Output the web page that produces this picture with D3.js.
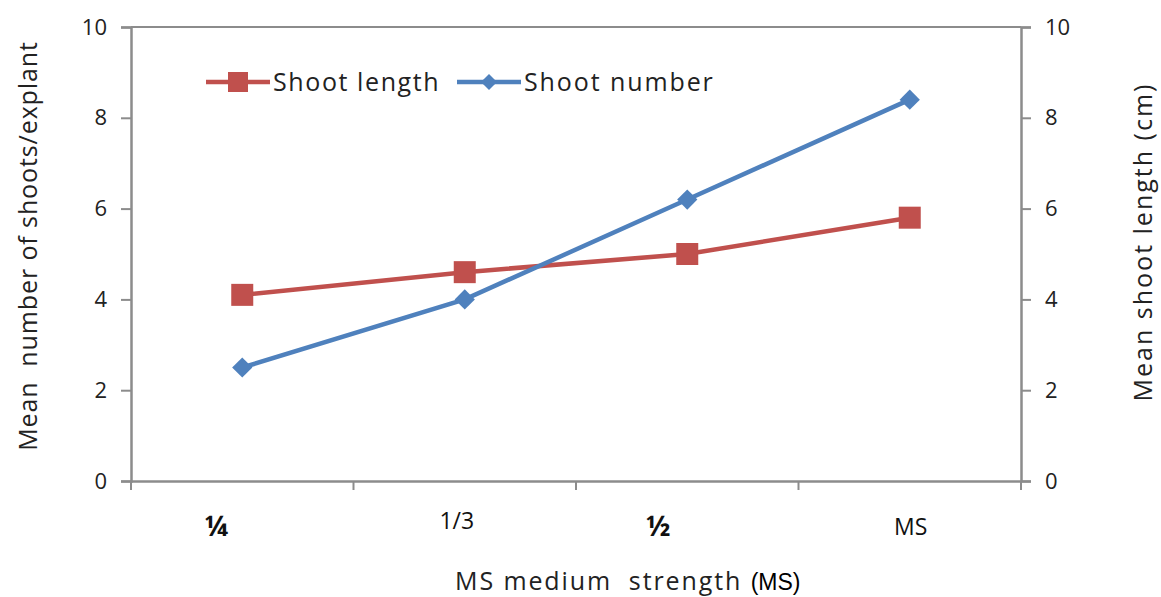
<!doctype html>
<html>
<head>
<meta charset="utf-8">
<title>Shoot number and length vs MS strength</title>
<style>
  body { margin:0; background:#fff; }
  svg { display:block; font-family:"Open Sans","Liberation Sans",sans-serif; }
</style>
</head>
<body>
<svg width="1161" height="597" id="chart"></svg>
<script src="https://d3js.org/d3.v7.min.js"></script>
<script>
var categories = ["¼", "1/3", "½", "MS"];
var shootLength = [4.1, 4.6, 5.0, 5.8];
var shootNumber = [2.5, 4.0, 6.2, 8.4];
var yTicks = [0, 2, 4, 6, 8, 10];

var svg = d3.select("#chart");
var plotL = 131, plotR = 1021, plotT = 27, plotB = 481;

var x = d3.scaleBand().domain(categories).range([plotL, plotR]);
var yL = d3.scaleLinear().domain([0, 10]).range([plotB, plotT]);
var yR = d3.scaleLinear().domain([0, 10]).range([plotB, plotT]);

var axisColor = "#8c8c8c";

// top border of plot area
svg.append("line").attr("x1", plotL).attr("x2", plotR).attr("y1", plotT).attr("y2", plotT)
  .attr("stroke", axisColor).attr("stroke-width", 2);

var gl = svg.append("g").attr("transform", "translate(" + plotL + ",0)")
  .call(d3.axisLeft(yL).tickValues(yTicks).tickSize(10).tickPadding(14));
var gr = svg.append("g").attr("transform", "translate(" + plotR + ",0)")
  .call(d3.axisRight(yR).tickValues(yTicks).tickSize(10).tickPadding(14));
var gx = svg.append("g").attr("transform", "translate(0," + plotB + ")")
  .call(d3.axisBottom(x).tickSize(0).tickFormat(""));

// category boundary ticks
gx.selectAll(".bound").data(d3.range(categories.length + 1)).enter().append("line")
  .attr("x1", function(i){ return plotL + i * x.step(); })
  .attr("x2", function(i){ return plotL + i * x.step(); })
  .attr("y1", 0).attr("y2", 9)
  .attr("stroke", axisColor).attr("stroke-width", 2);

[gl, gr, gx].forEach(function(g){
  g.select(".domain").attr("stroke", axisColor).attr("stroke-width", 2.5);
  g.selectAll(".tick line").attr("stroke", axisColor).attr("stroke-width", 2);
  g.selectAll("text").attr("fill", "#222").style("font-size", "22px")
    .style("font-family", "'Open Sans', sans-serif");
});

// category labels (mixed styles like the original)
var labelStyle = {
  "¼":  {dx: -26, y: 536, size: 28, weight: "bold"},
  "1/3":{dx: -8,  y: 529, size: 23, weight: "normal"},
  "½":  {dx: -29, y: 536, size: 28, weight: "bold"},
  "MS": {dx: 1,   y: 535, size: 23, weight: "normal"}
};
svg.selectAll(".xlab").data(categories).enter().append("text")
  .attr("class", "xlab")
  .attr("x", function(d){ return x(d) + x.bandwidth() / 2 + labelStyle[d].dx; })
  .attr("y", function(d){ return labelStyle[d].y; })
  .attr("text-anchor", "middle")
  .style("font-size", function(d){ return labelStyle[d].size + "px"; })
  .style("font-weight", function(d){ return labelStyle[d].weight; })
  .attr("fill", "#111")
  .text(function(d){ return d; });

// axis titles
var xt = svg.append("text").attr("x", 455).attr("y", 590).attr("fill", "#222")
  .style("font-size", "25px").style("white-space", "pre");
xt.append("tspan").text("MS medium  strength ").style("letter-spacing", "1.9px");
xt.append("tspan").text("(MS)").attr("font-family", "Liberation Sans, Arial, sans-serif")
  .style("font-family", "Liberation Sans, Arial, sans-serif")
  .style("font-size", "23px").style("letter-spacing", "0px").attr("fill", "#000");

svg.append("text").attr("transform", "translate(37,246) rotate(-90)")
  .attr("text-anchor", "middle").attr("fill", "#222").style("font-size", "25px")
  .style("letter-spacing", "0.9px").style("white-space", "pre").text("Mean  number of shoots/explant");
svg.append("text").attr("transform", "translate(1152,242) rotate(-90)")
  .attr("text-anchor", "middle").attr("fill", "#222").style("font-size", "25px")
  .style("letter-spacing", "2px").text("Mean shoot length (cm)");

var red = "#C0504D", blue = "#4F81BD";
var cx = function(d, i){ return x(categories[i]) + x.bandwidth() / 2; };

var lineR = d3.line().x(cx).y(function(d){ return yR(d); });
var lineL = d3.line().x(cx).y(function(d){ return yL(d); });

svg.append("path").datum(shootLength).attr("d", lineR)
  .attr("fill", "none").attr("stroke", red).attr("stroke-width", 4.5);
svg.append("path").datum(shootNumber).attr("d", lineL)
  .attr("fill", "none").attr("stroke", blue).attr("stroke-width", 4.5);

svg.selectAll(".sq").data(shootLength).enter().append("rect")
  .attr("x", function(d, i){ return cx(d, i) - 11; })
  .attr("y", function(d){ return yR(d) - 11; })
  .attr("width", 22).attr("height", 22).attr("fill", red);

var diamond = d3.symbol().type(d3.symbolSquare).size(205);
svg.selectAll(".dm").data(shootNumber).enter().append("path")
  .attr("transform", function(d, i){ return "translate(" + cx(d, i) + "," + yL(d) + ") rotate(45)"; })
  .attr("d", diamond).attr("fill", blue);

// legend
var legend = svg.append("g");
legend.append("line").attr("x1", 206).attr("x2", 270).attr("y1", 82).attr("y2", 82)
  .attr("stroke", red).attr("stroke-width", 4.5);
legend.append("rect").attr("x", 228).attr("y", 72).attr("width", 20).attr("height", 20).attr("fill", red);
legend.append("text").attr("x", 273).attr("y", 91).attr("fill", "#222")
  .style("font-size", "25px").style("letter-spacing", "1.6px").text("Shoot length");
legend.append("line").attr("x1", 457).attr("x2", 521).attr("y1", 82).attr("y2", 82)
  .attr("stroke", blue).attr("stroke-width", 4.5);
legend.append("path").attr("transform", "translate(489,82) rotate(45)")
  .attr("d", d3.symbol().type(d3.symbolSquare).size(130)).attr("fill", blue);
legend.append("text").attr("x", 524).attr("y", 91).attr("fill", "#222")
  .style("font-size", "25px").style("letter-spacing", "1.9px").text("Shoot number");
</script>
</body>
</html>
